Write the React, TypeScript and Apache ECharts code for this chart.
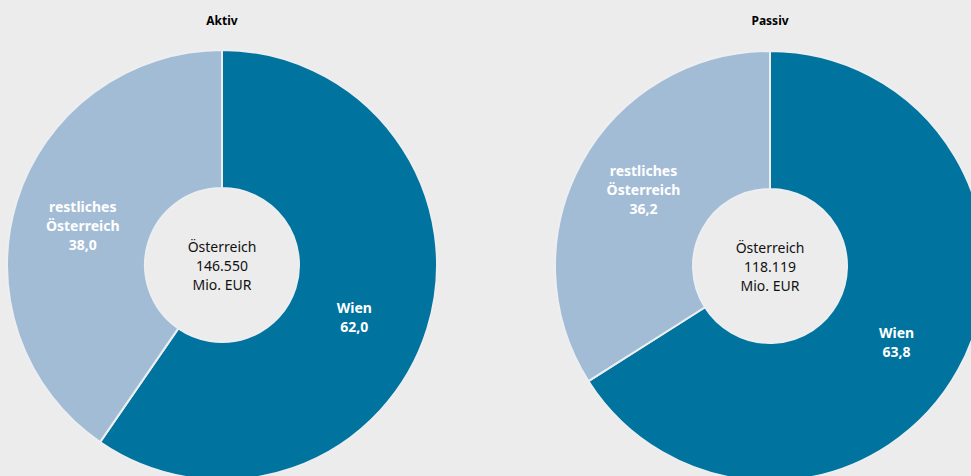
import React, { useEffect, useRef } from "react";
import * as echarts from "echarts";

const panelTitles = ["Aktiv", "Passiv"];
const categories = ["Wien", "restliches\nÖsterreich"];
// printed shares (labels)
const wienShare = [62.0, 63.8];
const restShare = [38.0, 36.2];
// arc sizes as drawn in the reference picture
const wienArc = [59.6, 66.0];
const restArc = [40.4, 34.0];
const totalsMioEur = [146550, 118119];
const totalLabel = "Österreich";
const unitLabel = "Mio. EUR";

const BG = "#ececec";
const DARK = "#00739f";
const LIGHT = "#a3bcd6";
const FONT = "Noto Sans";

const fmtShare = (v: number) => v.toFixed(1).replace(".", ",");
const fmtTotal = (v: number) => v.toLocaleString("de-DE");

export default function App() {
  const ref = useRef<HTMLDivElement>(null);
  useEffect(() => {
    if (!ref.current) return;
    const chart = echarts.init(ref.current, undefined, { renderer: "svg" });
    const centers = [
      [222, 265],
      [770, 266],
    ];
    const labelShifts = [
      [[-10, 8], [3, 5]],
      [[-4, 4], [4, -5]],
    ];
    const series = panelTitles.map((_, i) => ({
      type: "pie",
      center: centers[i],
      radius: [77, 215],
      startAngle: 90,
      clockwise: true,
      silent: true,
      avoidLabelOverlap: false,
      itemStyle: { borderColor: "#eceef0", borderWidth: 2 },
      label: {
        show: true,
        position: "inside",
        color: "#ffffff",
        fontFamily: FONT,
        fontWeight: "bold",
        fontSize: 14,
        lineHeight: 19,
        align: "center",
        formatter: (p: any) => `${p.name}\n${p.data.shown}`,
      },
      labelLayout: (p: any) => ({
        dx: labelShifts[i][p.dataIndex][0],
        dy: labelShifts[i][p.dataIndex][1],
      }),
      labelLine: { show: false },
      data: [
        { name: categories[0], value: wienArc[i], shown: fmtShare(wienShare[i]), itemStyle: { color: DARK } },
        { name: categories[1], value: restArc[i], shown: fmtShare(restShare[i]), itemStyle: { color: LIGHT } },
      ],
    }));
    const graphic: any[] = [];
    panelTitles.forEach((t, i) => {
      graphic.push({
        type: "text",
        x: centers[i][0],
        y: 20,
        style: {
          text: t,
          align: "center",
          verticalAlign: "middle",
          fontFamily: FONT,
          fontWeight: "bold",
          fontSize: 12,
          fill: "#000",
        },
      });
      graphic.push({
        type: "text",
        x: centers[i][0],
        y: centers[i][1],
        style: {
          text: `${totalLabel}\n${fmtTotal(totalsMioEur[i])}\n${unitLabel}`,
          align: "center",
          verticalAlign: "middle",
          fontFamily: FONT,
          fontSize: 14,
          lineHeight: 19,
          fill: "#111",
        },
      });
    });
    chart.setOption({
      animation: false,
      backgroundColor: BG,
      series,
      graphic,
    });
    return () => chart.dispose();
  }, []);
  return (
    <div
      ref={ref}
      style={{ position: "fixed", left: 0, top: 0, width: 971, height: 476, background: BG }}
    />
  );
}
